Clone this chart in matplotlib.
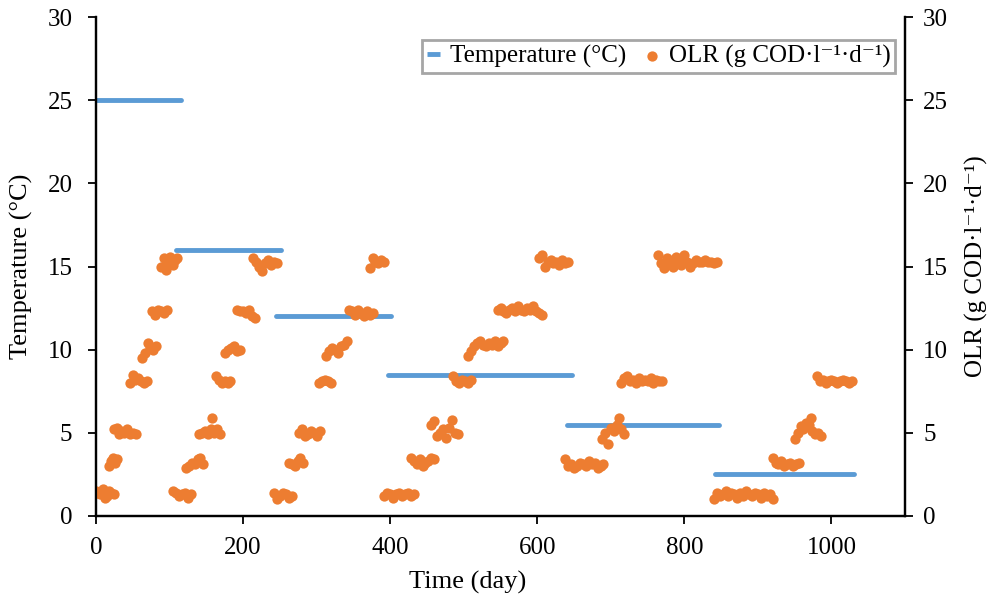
import matplotlib.pyplot as plt

plt.rcParams['font.family'] = ['Liberation Serif', 'DejaVu Serif']

# temperature steps: start day, end day, value
temp_start = [0, 109, 245, 397, 641, 842]
temp_end = [115, 251, 401, 647, 847, 1031]
temp_val = [25, 16, 12, 8.5, 5.5, 2.5]

# OLR
olr_day_1 = [0, 3, 6, 9, 12, 15, 18, 21, 24,
             17, 20, 23, 26, 29,
             24, 28, 31, 34, 38, 42, 46, 50, 54,
             46, 50, 53, 57, 61, 65, 69,
             62, 66, 70, 74, 78, 82,
             76, 80, 84, 88, 92, 96,
             88, 92, 95, 98, 101, 104, 107, 110]
olr_val_1 = [1.5, 1.4, 1.3, 1.6, 1.1, 1.2, 1.5, 1.4, 1.3,
             3.0, 3.3, 3.5, 3.2, 3.4,
             5.2, 5.3, 4.9, 5.1, 5.0, 5.2, 4.9, 5.0, 4.9,
             8.0, 8.5, 8.2, 8.3, 8.1, 8.0, 8.1,
             9.5, 9.8, 10.4, 10.1, 10.0, 10.2,
             12.3, 12.1, 12.4, 12.3, 12.2, 12.4,
             15.0, 15.5, 14.8, 15.3, 15.6, 15.1, 15.4, 15.5]

olr_day_2 = [105, 109, 113, 117, 121, 125, 129,
             122, 126, 130, 134, 138, 142, 146,
             140, 144, 148, 152, 156, 158, 160, 164, 168,
             163, 167, 171, 175, 179, 182,
             176, 180, 184, 188, 192, 196,
             192, 196, 200, 204, 208, 212, 216,
             214, 218, 222, 226, 230, 234, 238, 242, 246]
olr_val_2 = [1.5, 1.4, 1.2, 1.3, 1.4, 1.1, 1.3,
             2.9, 3.0, 3.2, 3.1, 3.4, 3.5, 3.1,
             4.9, 5.0, 5.1, 4.9, 5.2, 5.9, 5.0, 5.2, 4.9,
             8.4, 8.2, 8.0, 8.1, 8.0, 8.1,
             9.8, 10.0, 10.1, 10.2, 9.9, 10.0,
             12.4, 12.3, 12.3, 12.2, 12.4, 12.0, 11.9,
             15.5, 15.3, 15.0, 14.7, 15.2, 15.4, 15.1, 15.3, 15.2]

olr_day_3 = [242, 246, 250, 254, 258, 262, 266,
             262, 266, 270, 274, 278, 282,
             276, 280, 284, 288, 292, 296, 300, 304,
             303, 307, 311, 315, 319,
             313, 317, 321, 325, 329, 333, 337, 341,
             344, 348, 352, 356, 360, 364, 368, 372, 376,
             372, 376, 380, 384, 388, 392]
olr_val_3 = [1.4, 1.0, 1.2, 1.4, 1.3, 1.1, 1.2,
             3.2, 3.1, 3.0, 3.3, 3.5, 3.2,
             5.0, 5.2, 4.8, 4.9, 5.1, 5.0, 4.8, 5.1,
             8.0, 8.1, 8.2, 8.1, 8.0,
             9.6, 9.9, 10.1, 10.0, 9.8, 10.2, 10.3, 10.5,
             12.4, 12.3, 12.1, 12.4, 12.2, 12.0, 12.3, 12.1, 12.2,
             14.9, 15.5, 15.3, 15.2, 15.4, 15.3]

olr_day_4 = [392, 396, 400, 404, 408, 412, 416, 420, 424, 428, 432,
             428, 432, 436, 440, 444, 448, 452, 456, 460,
             456, 460, 464, 468, 472, 476, 480, 484, 488, 492,
             486, 490, 494, 498, 502, 506, 510,
             506, 510, 514, 518, 522, 526, 530, 534, 538, 542, 546, 550, 554,
             546, 550, 554, 558, 562, 566, 570, 574, 578, 582, 586, 590, 594,
             598, 602, 606,
             602, 606, 610, 614, 618, 622, 626, 630, 634, 638, 642]
olr_val_4 = [1.2, 1.4, 1.3, 1.1, 1.3, 1.4, 1.2, 1.3, 1.4, 1.2, 1.3,
             3.5, 3.3, 3.1, 3.4, 3.0, 3.2, 3.3, 3.5, 3.4,
             5.5, 5.7, 4.8, 5.0, 5.2, 4.7, 5.3, 5.8, 5.0, 4.9,
             8.4, 8.1, 8.0, 8.2, 8.1, 8.0, 8.2,
             9.6, 9.9, 10.2, 10.4, 10.5, 10.3, 10.2, 10.4, 10.3, 10.5, 10.2, 10.4, 10.5,
             12.4, 12.5, 12.3, 12.2, 12.4, 12.5, 12.3, 12.6, 12.4, 12.3, 12.5, 12.4, 12.6,
             12.3, 12.2, 12.1,
             15.5, 15.7, 15.0, 15.3, 15.4, 15.2, 15.3, 15.1, 15.4, 15.2, 15.3]

olr_day_5 = [638, 642, 646, 650, 654, 658, 662, 666, 670, 674, 678, 682, 686, 690,
             688, 692, 696, 700, 704, 708, 711, 714, 718,
             714, 718, 722, 726, 730, 734, 738, 742, 746, 750, 754, 758, 762, 766, 770,
             764, 768, 772, 776, 780, 784, 788, 792, 796, 800, 804, 808, 812, 816,
             820, 824, 828, 832, 836, 840, 844]
olr_val_5 = [3.4, 3.0, 3.1, 2.9, 3.0, 3.2, 3.1, 3.0, 3.3, 3.1, 3.2, 2.9, 3.0, 3.1,
             4.6, 5.0, 4.3, 5.3, 5.1, 5.5, 5.9, 5.2, 4.9,
             8.0, 8.3, 8.4, 8.1, 8.2, 8.0, 8.3, 8.1, 8.2, 8.1, 8.3, 8.0, 8.2, 8.1, 8.1,
             15.7, 15.2, 14.9, 15.5, 15.3, 15.0, 15.6, 15.4, 15.1, 15.7, 15.3, 15.0, 15.2, 15.4,
             15.3, 15.3, 15.4, 15.3, 15.3, 15.2, 15.3]

olr_day_6 = [840, 844, 848, 852, 856, 860, 864, 868, 872, 876, 880, 884, 888, 892,
             896, 900, 904, 908, 912, 916, 920,
             920, 924, 928, 932, 936, 940, 944, 948, 952, 956,
             950, 954, 958, 962, 966, 970, 972, 974, 978, 982, 986,
             980, 984, 988, 992, 996, 1000, 1004, 1008, 1012, 1016, 1020, 1024, 1028]
olr_val_6 = [1.0, 1.4, 1.2, 1.3, 1.5, 1.2, 1.4, 1.3, 1.1, 1.4, 1.2, 1.5, 1.3, 1.2,
             1.4, 1.3, 1.1, 1.4, 1.2, 1.3, 1.0,
             3.5, 3.2, 3.1, 3.3, 3.0, 3.1, 3.2, 3.0, 3.1, 3.2,
             4.6, 5.0, 5.4, 5.2, 5.6, 5.5, 5.9, 5.1, 4.9, 5.0, 4.8,
             8.4, 8.1, 8.2, 8.0, 8.1, 8.2, 8.1, 8.0, 8.1, 8.2, 8.1, 8.0, 8.1]

olr_day = olr_day_1 + olr_day_2 + olr_day_3 + olr_day_4 + olr_day_5 + olr_day_6
olr_val = olr_val_1 + olr_val_2 + olr_val_3 + olr_val_4 + olr_val_5 + olr_val_6

blue = '#5B9BD5'
orange = '#ED7D31'

fig = plt.figure(figsize=(9.91, 5.97), dpi=100)
ax = fig.add_axes([0.0969, 0.1357, 0.8163, 0.8358])
ax2 = ax.twinx()

ax.hlines(temp_val, temp_start, temp_end, colors=blue, linewidth=3.5,
          capstyle='round', label='Temperature (°C)')
ax2.scatter(olr_day, olr_val, s=55, color=orange, linewidths=0,
            label='OLR (g COD·l⁻¹·d⁻¹)')

for a in (ax, ax2):
    a.set_xlim(0, 1100)
    a.set_ylim(0, 30)
    a.set_yticks(range(0, 31, 5))
    a.spines['top'].set_visible(False)
    for s in a.spines.values():
        s.set_linewidth(1.6)
    a.tick_params(direction='out', length=6, width=1.3, labelsize=18)

ax.set_xticks(range(0, 1001, 200))
ax.tick_params(axis='x', pad=9)
ax.tick_params(axis='y', pad=11)
ax2.tick_params(axis='y', pad=7)

ax.set_xlabel('Time (day)', fontsize=19)
ax.xaxis.set_label_coords(0.459, -0.11)
ax.set_ylabel('Temperature (°C)', fontsize=19)
ax.yaxis.set_label_coords(-0.078, 0.5)
ax2.set_ylabel('OLR (g COD·l⁻¹·d⁻¹)', fontsize=18)
ax2.yaxis.set_label_coords(1.074, 0.5)

h1, l1 = ax.get_legend_handles_labels()
h2, l2 = ax2.get_legend_handles_labels()
leg = ax2.legend(h1 + h2, l1 + l2, ncol=2, loc='upper right',
                 bbox_to_anchor=(0.988, 0.954), borderaxespad=0,
                 fontsize=18, fancybox=False,
                 handlelength=0.5, handletextpad=0.4, columnspacing=0.8,
                 borderpad=0.2, edgecolor='#A6A6A6', framealpha=1)
leg.get_frame().set_linewidth(2)

fig.savefig('out.png', dpi=100)
